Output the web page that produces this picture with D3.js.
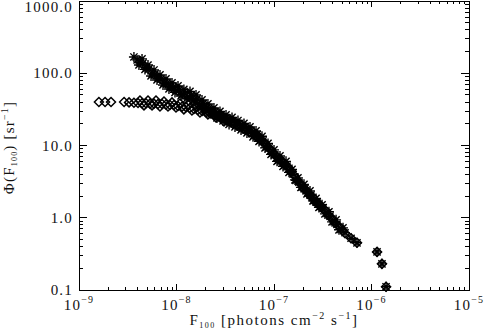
<!DOCTYPE html>
<html><head><meta charset="utf-8">
<script src="https://cdn.jsdelivr.net/npm/d3@7"></script>
<style>body{margin:0;background:#fff} svg{display:block}</style>
</head><body><div id="chart"></div>
<script>
// Asterisk series (upper branch + main curve)
const astFlux = [3.94e-9,4.23e-9,4.53e-9,4.86e-9,5.22e-9,5.61e-9,6.01e-9,6.45e-9,6.93e-9,7.44e-9,8.00e-9,8.57e-9,9.20e-9,9.89e-9,1.06e-8,1.14e-8,1.22e-8,1.31e-8,1.41e-8,1.51e-8,1.62e-8,1.74e-8,1.87e-8,2.01e-8,2.15e-8,2.31e-8,2.48e-8,2.67e-8,2.86e-8,3.07e-8,3.30e-8,3.54e-8,3.79e-8,4.07e-8,4.38e-8,4.70e-8,5.05e-8,5.41e-8,5.81e-8,6.24e-8,6.70e-8,7.18e-8,7.71e-8,8.28e-8,8.89e-8,9.53e-8,1.02e-7,1.10e-7,1.18e-7,1.27e-7,1.36e-7,1.46e-7,1.57e-7,1.68e-7,1.80e-7,1.94e-7,2.08e-7,2.23e-7,2.39e-7,2.57e-7,2.76e-7,2.96e-7,3.18e-7,3.50e-7,3.75e-7,4.12e-7,4.42e-7,4.86e-7,5.35e-7,6.17e-7,7.10e-7,1.14e-6,1.28e-6,1.41e-6,
  3.66e-9,4.12e-9,4.43e-9,4.75e-9,5.10e-9,5.48e-9,5.88e-9,6.31e-9,6.77e-9,7.27e-9,7.80e-9,8.37e-9,8.99e-9,9.65e-9,1.036e-8,1.112e-8,1.19e-8,1.28e-8,1.375e-8,1.476e-8,1.585e-8,1.70e-8,1.826e-8,1.96e-8,2.10e-8,2.26e-8,2.42e-8,2.60e-8,2.79e-8,3.00e-8,3.22e-8,3.46e-8,3.71e-8,3.98e-8,4.27e-8,4.59e-8,4.92e-8,5.28e-8,5.67e-8,6.09e-8,6.54e-8,7.02e-8,7.53e-8,8.09e-8,8.68e-8,9.32e-8,1.0e-7,1.074e-7,1.152e-7,1.237e-7,1.328e-7,1.425e-7,1.53e-7,1.64e-7,1.76e-7,1.89e-7,2.03e-7,2.18e-7,2.34e-7,2.51e-7,2.70e-7,2.89e-7,3.11e-7,3.33e-7,3.66e-7,3.94e-7,4.33e-7,4.64e-7,5.10e-7];
const astPhi = [153,140,138,118,115,98,97,86,83,73,73,65,64,58,59,51,53,47,49,43,44,37,38,32.5,33,28.5,29.5,25.5,26.5,23.5,23,21,22,19,20,17.3,18.3,15.8,16,13.8,14.2,11.8,11.6,9.5,9.3,7.8,7.4,6.2,6.3,5.3,5.2,4.4,4.0,3.3,3.1,2.65,2.55,2.2,2.05,1.72,1.65,1.42,1.38,1.15,1.05,0.88,0.81,0.69,0.62,0.52,0.45,0.337,0.23,0.111,
  168,130,158,113,130,91.8,111,80.8,94.7,68.9,83.4,60.6,73.4,54.3,66.7,48.5,59.7,44.8,56.0,41.4,50.1,35.3,42.7,31.1,37.6,27.4,33.1,24.1,29.6,21.9,26.5,19.6,24.5,18.1,22.2,16.4,20.2,14.9,18.1,13.2,15.9,11.4,13.4,9.27,10.7,7.53,8.69,6.03,7.18,5.14,6.03,4.25,4.67,3.34,3.56,2.63,2.90,2.14,2.35,1.71,1.85,1.39,1.51,1.13,1.21,0.877,0.935,0.681,0.725];
// Diamond series (flat lower branch + main curve)
const diaFlux = [1.60e-9,1.85e-9,2.13e-9,2.90e-9,3.26e-9,3.66e-9,4.03e-9,4.43e-9,4.86e-9,5.35e-9,5.87e-9,6.45e-9,7.10e-9,7.80e-9,8.57e-9,9.42e-9,1.035e-8,1.14e-8,1.25e-8,1.37e-8,1.51e-8,1.66e-8,1.83e-8,2.01e-8,2.21e-8,2.43e-8,2.67e-8,2.93e-8,3.22e-8,3.42e-8,3.67e-8,3.93e-8,4.22e-8,4.53e-8,4.87e-8,5.23e-8,5.61e-8,6.02e-8,6.47e-8,6.94e-8,7.45e-8,7.99e-8,8.58e-8,9.21e-8,9.89e-8,1.06e-7,1.14e-7,1.22e-7,1.31e-7,1.41e-7,1.51e-7,1.62e-7,1.74e-7,1.87e-7,2.01e-7,2.15e-7,2.31e-7,2.48e-7,2.66e-7,2.86e-7,3.07e-7,3.34e-7,3.62e-7,3.93e-7,4.27e-7,4.64e-7,5.10e-7,5.35e-7,6.17e-7,7.10e-7,1.14e-6,1.28e-6,1.41e-6,
  4.22e-9,4.64e-9,5.10e-9,5.61e-9,6.16e-9,6.77e-9,7.44e-9,8.18e-9,8.99e-9,9.88e-9,1.086e-8,1.19e-8,1.31e-8,1.44e-8,1.585e-8,1.74e-8,1.91e-8,2.10e-8,2.31e-8,2.54e-8,2.79e-8,3.07e-8];
const diaPhi = [40,40,40,40,39.5,39,38.8,38.5,38.5,38,38,37.6,37.6,37,36.4,36.4,35.3,34.5,34,33,32,31,30,29,28,27,25.5,24,22.5,22.5,21.0,20.8,19.0,19.2,17.2,17.4,15.4,15.6,13.5,13.4,11.6,11.0,9.6,8.8,7.9,7.0,6.6,5.9,5.5,4.9,4.4,3.8,3.3,2.95,2.55,2.40,2.05,1.95,1.65,1.58,1.38,1.28,1.08,0.98,0.84,0.76,0.66,0.61,0.52,0.45,0.337,0.23,0.111,
  42.0,35.9,42.0,35.9,42.0,34.7,40.7,34.7,39.5,33.6,38.2,31.6,37.0,30.6,34.7,28.7,32.6,26.9,29.6,24.5,26.9,21.5];
const xTickExponents = [-9,-8,-7,-6,-5];
const yTickValues = [0.1,1,10,100,1000];
const yTickLabels = ["0.1","1.0","10.0","100.0","1000.0"];

const W=484,H=331,L=79,R=469,T=1,B=290;
const FONT = "'Liberation Serif', serif";
const svg = d3.select("#chart").append("svg").attr("width",W).attr("height",H);
svg.append("rect").attr("width",W).attr("height",H).attr("fill","#fff");
const x = d3.scaleLog().domain([1e-9,1e-5]).range([L,R]);
const y = d3.scaleLog().domain([0.1,1000]).range([B,T]);
const isMajor = v => Math.abs(Math.log10(v)-Math.round(Math.log10(v)))<1e-6;

// Data
const diamond = "M0,-4.5L4.5,0L0,4.5L-4.5,0Z";
const aster = "M-5,0H5M0,-5V5M-3.6,-3.6L3.6,3.6M-3.6,3.6L3.6,-3.6";
const dia = diaFlux.map((f,i)=>({f,p:diaPhi[i]}));
const ast = astFlux.map((f,i)=>({f,p:astPhi[i]}));
svg.append("g").selectAll("path").data(dia).join("path")
  .attr("d",diamond).attr("transform",d=>`translate(${x(d.f)},${y(d.p)})`)
  .attr("fill","none").attr("stroke","#000").attr("stroke-width",1.5);
svg.append("g").selectAll("path").data(ast).join("path")
  .attr("d",aster).attr("transform",d=>`translate(${x(d.f)},${y(d.p)})`)
  .attr("fill","none").attr("stroke","#000").attr("stroke-width",1.4);

// Frame and ticks
const ax = svg.append("g").attr("stroke","#000").attr("stroke-width",1).attr("shape-rendering","crispEdges");
ax.append("rect").attr("x",L).attr("y",T).attr("width",R-L).attr("height",B-T).attr("fill","none");
x.ticks().forEach(v=>{
  const len = isMajor(v)?6:3, px=x(v);
  ax.append("line").attr("x1",px).attr("x2",px).attr("y1",B).attr("y2",B-len);
  ax.append("line").attr("x1",px).attr("x2",px).attr("y1",T).attr("y2",T+len);
});
y.ticks().forEach(v=>{
  const len = isMajor(v)?8:4, py=y(v);
  ax.append("line").attr("x1",L).attr("x2",L+len).attr("y1",py).attr("y2",py);
  ax.append("line").attr("x1",R).attr("x2",R-len).attr("y1",py).attr("y2",py);
});

// Tick labels
const txt = svg.append("g").attr("font-family",FONT).attr("fill","#111").attr("font-size",15).attr("letter-spacing","1.2px");
yTickValues.forEach((v,i)=>{
  txt.append("text").attr("x",L-6).attr("y",Math.max(y(v)+5,12)).attr("text-anchor","end").text(yTickLabels[i]);
});
xTickExponents.forEach(e=>{
  const t = txt.append("text").attr("x",x(Math.pow(10,e))).attr("y",310).attr("text-anchor","middle");
  t.append("tspan").text("10");
  t.append("tspan").attr("dy",-7).attr("font-size",10).text("\u2212"+Math.abs(e));
});

// Axis titles
const xt = txt.append("text").attr("x",(L+R)/2).attr("y",325).attr("text-anchor","middle").attr("letter-spacing","1.5px");
xt.append("tspan").text("F");
xt.append("tspan").attr("font-size",8).attr("dy",3).text("100");
xt.append("tspan").attr("dy",-3).text(" [photons cm");
xt.append("tspan").attr("font-size",10).attr("dy",-6).text("\u22122");
xt.append("tspan").attr("dy",6).text(" s");
xt.append("tspan").attr("font-size",10).attr("dy",-6).text("\u22121");
xt.append("tspan").attr("dy",6).text("]");

const yt = txt.append("text").attr("transform",`translate(14,${(T+B)/2+2}) rotate(-90)`).attr("text-anchor","middle");
yt.append("tspan").text("\u03A6(F");
yt.append("tspan").attr("font-size",8).attr("dy",3).text("100");
yt.append("tspan").attr("dy",-3).text(") [sr");
yt.append("tspan").attr("font-size",10).attr("dy",-6).text("\u22121");
yt.append("tspan").attr("dy",6).text("]");
</script>
</body></html>
